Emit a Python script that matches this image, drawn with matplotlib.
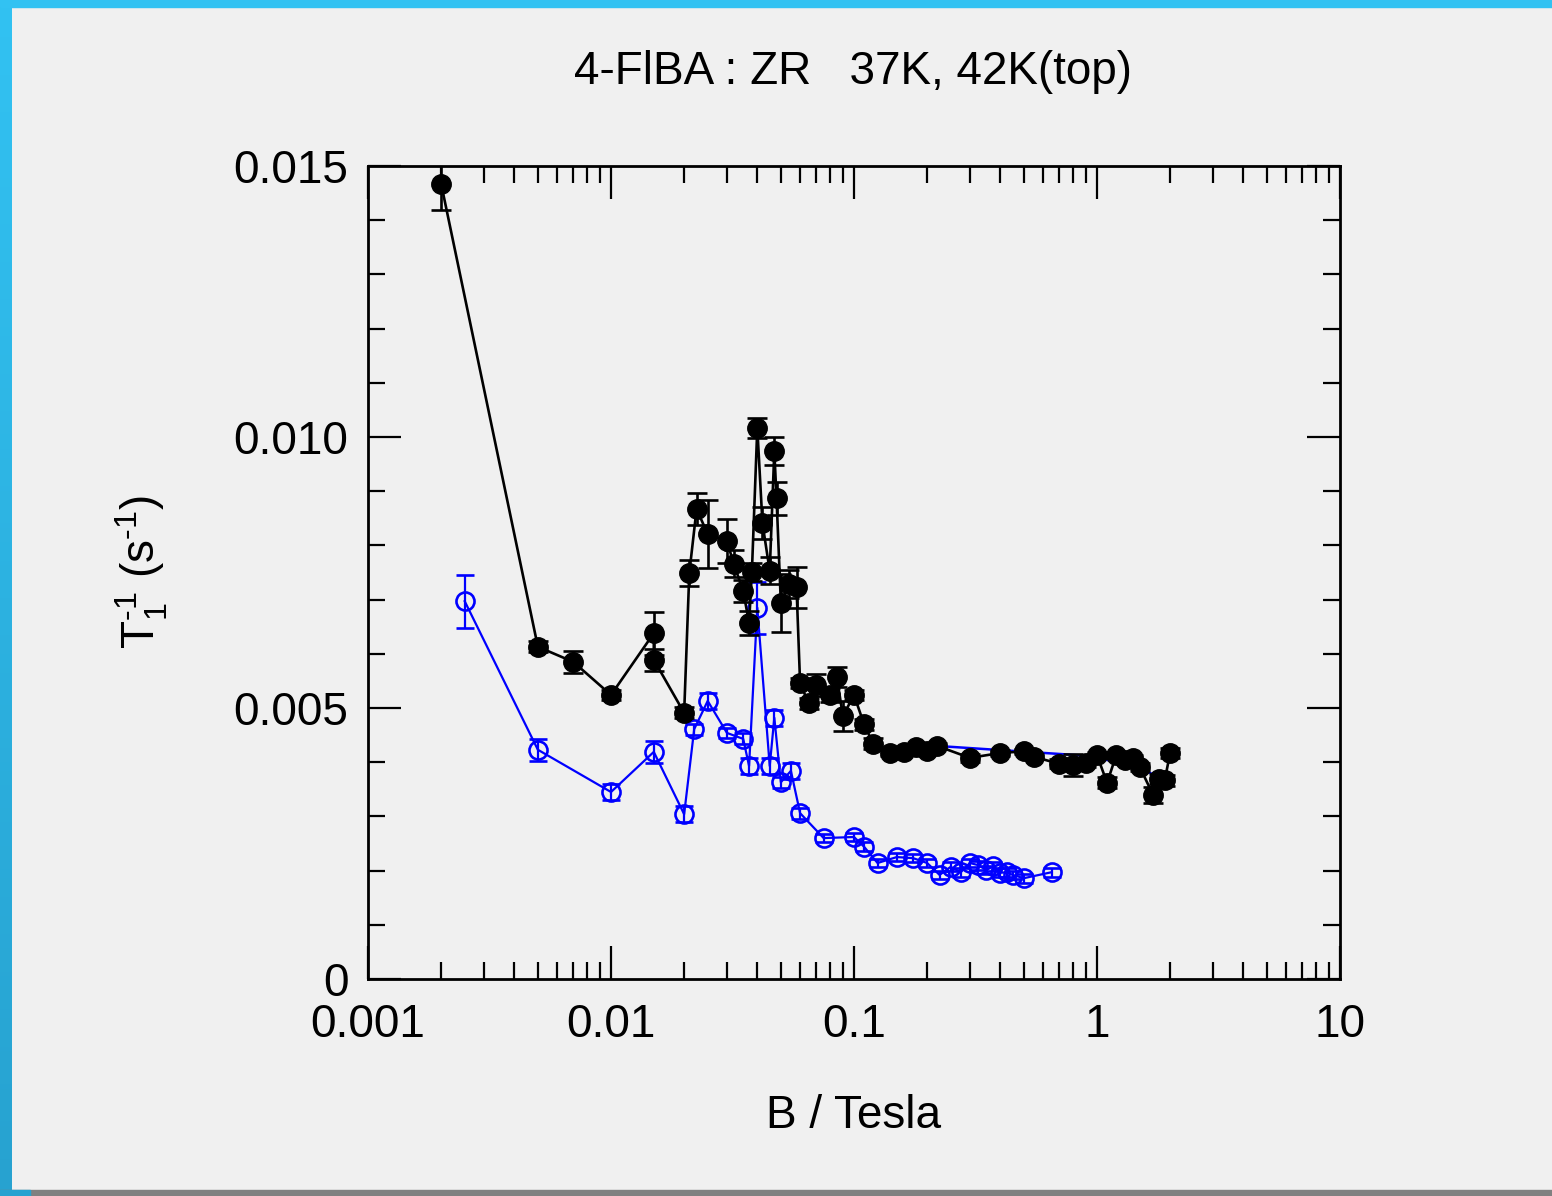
import numpy as np
import matplotlib.pyplot as plt
from matplotlib.patches import Rectangle
from matplotlib.colors import LinearSegmentedColormap
from matplotlib.ticker import LogLocator, MultipleLocator, FixedFormatter, FixedLocator

plt.rcParams['font.family'] = ['Liberation Sans', 'DejaVu Sans']
plt.rcParams['mathtext.default'] = 'regular'

# 37K run (filled circles)
field_37 = [0.002, 0.005, 0.007, 0.01, 0.015, 0.015, 0.02, 0.021, 0.0225, 0.025,
            0.03, 0.032, 0.035, 0.037, 0.038, 0.04, 0.042, 0.045, 0.047, 0.048,
            0.05, 0.054, 0.058, 0.06, 0.065, 0.07, 0.08, 0.085, 0.09, 0.1,
            0.11, 0.12, 0.14, 0.16, 0.18, 0.2, 0.22, 0.3, 0.4, 0.5,
            0.55, 0.7, 0.8, 0.9, 1.0, 1.1, 1.2, 1.3, 1.4, 1.5,
            1.7, 1.8, 1.9, 2.0]
rate_37 = [0.01467, 0.00613, 0.00585, 0.00524, 0.00638, 0.00589, 0.00491, 0.00749, 0.00867, 0.00821,
           0.00808, 0.00766, 0.00716, 0.00657, 0.00751, 0.01017, 0.00841, 0.00753, 0.00974, 0.00887,
           0.00694, 0.00729, 0.00723, 0.00546, 0.00509, 0.00542, 0.00524, 0.00557, 0.00485, 0.00524,
           0.0047, 0.00434, 0.00417, 0.00419, 0.00428, 0.0042, 0.0043, 0.00408, 0.00417, 0.0042,
           0.0041, 0.00397, 0.00395, 0.00399, 0.00413, 0.00362, 0.00413, 0.00404, 0.00408, 0.00391,
           0.0034, 0.00369, 0.00367, 0.00417]
err_37 = [0.00048, 0.0001, 0.0002, 0.0001, 0.0004, 0.0002, 0.0001, 0.00024, 0.0003, 0.00063,
          0.0004, 0.00025, 0.0002, 0.00022, 0.00017, 0.00018, 0.0003, 0.00025, 0.00026, 0.0003,
          0.00053, 0.00026, 0.00038, 0.0001, 0.0001, 0.0002, 0.00013, 0.00018, 0.00028, 0.0001,
          0.0001, 0.0001, 0.00005, 0.00005, 0.00005, 0.00005, 0.00005, 0.00008, 0.00005, 0.00005,
          0.00005, 0.00008, 0.0002, 0.00008, 0.00005, 0.0001, 0.00005, 0.00005, 0.00005, 0.00008,
          0.00015, 0.0001, 0.0001, 0.0001]

# 42K run (open circles)
field_42 = [0.0025, 0.005, 0.01, 0.015, 0.02, 0.022, 0.025, 0.03, 0.035, 0.037,
            0.04, 0.045, 0.047, 0.05, 0.055, 0.06, 0.075, 0.1, 0.11, 0.125,
            0.15, 0.175, 0.2, 0.225, 0.25, 0.275, 0.3, 0.325, 0.35, 0.375,
            0.4, 0.425, 0.45, 0.5, 0.65]
rate_42 = [0.00697, 0.00423, 0.00345, 0.00419, 0.00304, 0.00461, 0.00513, 0.00454, 0.00443, 0.00393,
           0.00685, 0.00393, 0.00482, 0.00363, 0.00384, 0.00306, 0.0026, 0.00262, 0.00244, 0.00214,
           0.00225, 0.00223, 0.00214, 0.00192, 0.00207, 0.00197, 0.00214, 0.0021, 0.00201, 0.00208,
           0.00196, 0.00197, 0.00192, 0.00186, 0.00197]
err_42 = [0.00049, 0.0002, 0.00015, 0.0002, 0.00015, 0.0001, 0.00015, 0.0001, 0.0001, 0.00015,
          0.00048, 0.00015, 0.00015, 0.0001, 0.00015, 0.0001, 0.00008, 0.00008, 0.00008, 0.00008,
          0.00008, 0.00008, 0.00008, 0.00008, 0.00008, 0.00008, 0.00008, 0.00008, 0.00008, 0.00008,
          0.00008, 0.00008, 0.00008, 0.00008, 0.00008]

# coarse high-field sweep, sits underneath the 37K points
field_hi = [0.22, 0.9, 1.5, 1.8]
rate_hi = [0.0043, 0.00412, 0.00392, 0.0037]

x_ticks = [0.001, 0.01, 0.1, 1, 10]
x_tick_labels = ['0.001', '0.01', '0.1', '1', '10']
y_ticks = [0, 0.005, 0.010, 0.015]
y_tick_labels = ['0', '0.005', '0.010', '0.015']

W, H = 1552, 1196
fig = plt.figure(figsize=(W / 100, H / 100), dpi=100, facecolor='#f0f0f0')

# window frame strips
fig.patches.append(Rectangle((0, 0), 1, 6 / H, transform=fig.transFigure,
                             color='#808080', zorder=0))
fig.patches.append(Rectangle((0, 1 - 7 / H), 1, 7 / H, transform=fig.transFigure,
                             color='#32c2f2', zorder=0))
fig.patches.append(Rectangle((0, 0), 30 / W, 6 / H, transform=fig.transFigure,
                             color='#27a2d0', zorder=1))
strip = np.linspace(0, 1, 256).reshape(-1, 1)
ax_bg = fig.add_axes([0, 0, 12 / W, 1], zorder=-1)
ax_bg.imshow(strip, aspect='auto', origin='lower', extent=[0, 1, 0, 1],
             cmap=LinearSegmentedColormap.from_list('edge', ['#27a2d0', '#32c2f2']))
ax_bg.axis('off')

ax = fig.add_axes([368 / W, (H - 979) / H, 972 / W, 813 / H])
ax.set_facecolor('#f0f0f0')

ax.plot(field_hi, rate_hi, color='blue', lw=1.8, zorder=1)
ax.errorbar(field_37, rate_37, yerr=err_37, color='black', marker='o', ms=14,
            mfc='black', mec='black', lw=1.9, elinewidth=1.9, capsize=7,
            capthick=1.9, zorder=3)
ax.errorbar(field_42, rate_42, yerr=err_42, color='blue', marker='o', ms=13,
            mfc='none', mec='blue', mew=1.9, lw=1.6, elinewidth=1.6, capsize=6.5,
            capthick=1.6, zorder=2)

ax.set_xscale('log')
ax.set_xlim(0.001, 10)
ax.set_ylim(0, 0.015)

ax.xaxis.set_major_locator(FixedLocator(x_ticks))
ax.xaxis.set_major_formatter(FixedFormatter(x_tick_labels))
ax.xaxis.set_minor_locator(LogLocator(base=10, subs=np.arange(2, 10)))
ax.xaxis.set_minor_formatter(plt.NullFormatter())
ax.yaxis.set_major_locator(FixedLocator(y_ticks))
ax.yaxis.set_major_formatter(FixedFormatter(y_tick_labels))
ax.yaxis.set_minor_locator(MultipleLocator(0.001))

ax.tick_params(which='both', direction='in', top=True, right=True, width=1.6,
               labelsize=33, colors='black')
ax.tick_params(which='major', length=24)
ax.tick_params(which='minor', length=12)
ax.tick_params(axis='x', pad=17)
ax.tick_params(axis='y', pad=14)
for s in ax.spines.values():
    s.set_linewidth(2)

ax.set_xlabel('B / Tesla', fontsize=33, labelpad=34)
ax.set_ylabel('$T_1^{\u20101}$ (s$^{\u20101}$)', fontsize=33, labelpad=46)
fig.text(853 / W, 1 - 72 / H, '4-FlBA : ZR   37K, 42K(top)', fontsize=33,
         ha='center', va='center')

fig.savefig('out.png', dpi=100, facecolor=fig.get_facecolor())
